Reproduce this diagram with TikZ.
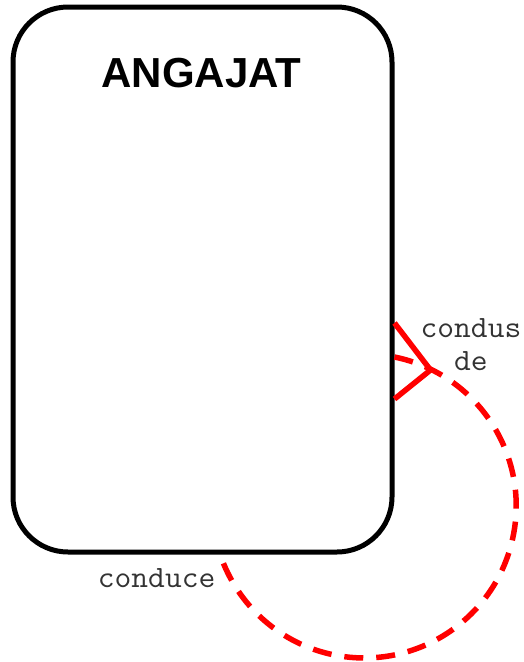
\documentclass[tikz,border=0pt]{standalone}
\usepackage{fontspec}
\setmainfont{Liberation Sans}
\setmonofont[FakeStretch=1.05]{Latin Modern Mono}
\usepackage{xcolor}
\usetikzlibrary{positioning,calc}

\begin{document}
\begin{tikzpicture}[
  x=1pt, y=1pt,
  entitate/.style={draw, line width=5pt, rounded corners=55pt, minimum width=379pt, minimum height=545pt, inner sep=0pt},
  titlu/.style={font=\fontsize{42}{46}\selectfont\bfseries},
  rel/.style={draw=red, line width=5.5pt},
  reldash/.style={rel, dash pattern=on 19pt off 13pt},
  rolul/.style={font=\fontsize{31}{33}\selectfont\ttfamily, text=black!80, align=center, inner sep=0pt}
]
\useasboundingbox (0,0) rectangle (524,-662);
\node[entitate] (angajat) at (202.5,-279.5) {};
\node[titlu] (nume) at ($(angajat.north)+(-1,-69)$) {ANGAJAT};

% capetele relatiei reflexive
\coordinate (pornire) at ($(angajat.east)+(0,-77.5)$);
\coordinate (varf) at ($(angajat.east)+(36,-90.5)$);
\coordinate (sus) at ($(angajat.east)+(0,-43.5)$);
\coordinate (jos) at ($(angajat.east)+(0,-119.5)$);

% bucla punctata, centrul la (362,-505)
\draw[reldash] (pornire) arc[start angle=78.5, end angle=-161.7, radius=152];
\draw[rel] (sus) -- (varf) -- (jos);

\node[rolul, right=26pt of sus, yshift=-22pt] (condus) {condus\\de};
\node[rolul, below left=14pt and 5pt of angajat.south, xshift=18pt] (conduce) {conduce};
\end{tikzpicture}
\end{document}
